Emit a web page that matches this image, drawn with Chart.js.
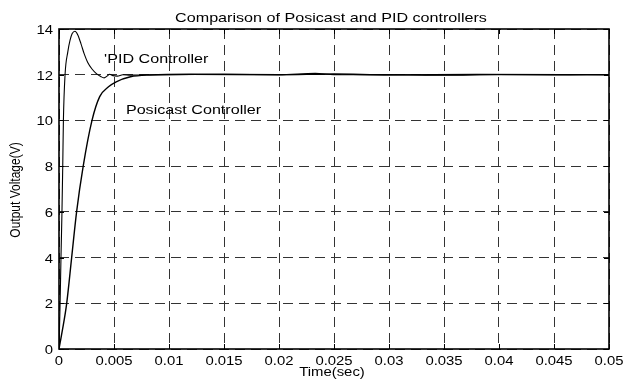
<!DOCTYPE html>
<html>
<head>
<meta charset="utf-8">
<script src="https://cdn.jsdelivr.net/npm/chart.js@4"></script>
<style>
  html, body { margin: 0; padding: 0; background: #fff; }
  #wrap { width: 627px; height: 382px; }
</style>
</head>
<body>
<div id="wrap"><canvas id="respChart" width="627" height="382"></canvas></div>
<script>
// step responses, time in seconds, output in volts
const pidTime = [0, 0.0001, 0.00018, 0.00027, 0.00034, 0.0004, 0.00055, 0.0008, 0.001, 0.0012, 0.00145, 0.0017, 0.002, 0.0023, 0.0026, 0.003, 0.0034, 0.0038, 0.0041, 0.0044, 0.0046, 0.0049, 0.0053, 0.0058, 0.0065, 0.008, 0.01, 0.015, 0.02, 0.0233, 0.025, 0.03, 0.035, 0.04, 0.045, 0.048, 0.05];
const pidVolt = [0, 2, 4, 6, 8, 10, 12, 13.0, 13.5, 13.8, 13.9, 13.75, 13.35, 12.9, 12.55, 12.25, 12.05, 11.92, 11.86, 11.95, 12.02, 11.96, 11.94, 12.0, 11.98, 12.0, 12.0, 12.02, 12.0, 12.06, 12.0, 12.01, 11.98, 12.01, 11.99, 12.0, 12.0];

const posTime = [0, 0.0003, 0.0007, 0.00115, 0.0016, 0.0022, 0.003, 0.0037, 0.0045, 0.0052, 0.0065, 0.0083, 0.012, 0.02, 0.025, 0.03, 0.038, 0.05];
const posVolt = [0, 0.8, 2, 4, 6, 8, 10, 11.04, 11.47, 11.69, 11.91, 11.99, 12.02, 12.0, 12.03, 11.99, 12.01, 12.0];

const xTicks = [0, 0.005, 0.01, 0.015, 0.02, 0.025, 0.03, 0.035, 0.04, 0.045, 0.05];
const yTicks = [0, 2, 4, 6, 8, 10, 12, 14];
const xTickLabels = ['0', '0.005', '0.01', '0.015', '0.02', '0.025', '0.03', '0.035', '0.04', '0.045', '0.05'];
const yTickLabels = ['0', '2', '4', '6', '8', '10', '12', '14'];

const titleText = 'Comparison of Posicast and PID controllers';
const xTitle = 'Time(sec)';
const yTitle = 'Output Voltage(V)';

// curve labels, placed in data coordinates (left end of baseline)
const curveLabels = [
  { text: "'PID Controller", x: 0.0041, y: 12.53 },
  { text: 'Posicast Controller', x: 0.00608, y: 10.26 }
];

const FONT = "'Liberation Sans', Arial, sans-serif";
const WIDEN = 1.24; // the figure's lettering is drawn a bit wide

const toPoints = (xs, ys) => xs.map((x, i) => ({ x: x, y: ys[i] }));

function wideText(ctx, text, x, y, align, size, rotate) {
  ctx.save();
  ctx.translate(x, y);
  if (rotate) ctx.rotate(-Math.PI / 2);
  ctx.font = size + 'px ' + FONT;
  ctx.textAlign = align;
  ctx.textBaseline = 'alphabetic';
  if (rotate) ctx.scale(1, WIDEN); else ctx.scale(WIDEN, 1);
  ctx.fillText(text, 0, 0);
  ctx.restore();
}

const framePlugin = {
  id: 'frame',
  afterDraw(chart) {
    const { ctx, chartArea: a, scales } = chart;
    ctx.save();
    // inner tick marks on all four sides
    ctx.strokeStyle = '#000';
    ctx.lineWidth = 1;
    ctx.beginPath();
    xTicks.forEach(v => {
      const px = Math.round(scales.x.getPixelForValue(v)) + 0.5;
      ctx.moveTo(px, a.bottom); ctx.lineTo(px, a.bottom - 5);
      ctx.moveTo(px, a.top); ctx.lineTo(px, a.top + 5);
    });
    yTicks.forEach(v => {
      const py = Math.round(scales.y.getPixelForValue(v)) + 0.5;
      ctx.moveTo(a.left, py); ctx.lineTo(a.left + 5, py);
      ctx.moveTo(a.right, py); ctx.lineTo(a.right - 5, py);
    });
    ctx.stroke();
    ctx.lineWidth = 1.6;
    ctx.strokeRect(a.left, a.top, a.right - a.left, a.bottom - a.top);

    ctx.fillStyle = '#000';
    xTicks.forEach((v, i) => {
      wideText(ctx, xTickLabels[i], scales.x.getPixelForValue(v), a.bottom + 16, 'center', 12);
    });
    yTicks.forEach((v, i) => {
      wideText(ctx, yTickLabels[i], a.left - 6, scales.y.getPixelForValue(v) + 5, 'right', 12);
    });
    wideText(ctx, titleText, (a.left + a.right) / 2 - 3, 22, 'center', 13);
    wideText(ctx, xTitle, (a.left + a.right) / 2 - 2, 376, 'center', 12);
    wideText(ctx, yTitle, 20, (a.top + a.bottom) / 2 + 1, 'center', 12, true);

    curveLabels.forEach(l => {
      wideText(ctx, l.text, scales.x.getPixelForValue(l.x), scales.y.getPixelForValue(l.y), 'left', 13);
    });
    ctx.restore();
  }
};

new Chart(document.getElementById('respChart'), {
  type: 'line',
  data: {
    datasets: [
      {
        label: 'PID Controller',
        data: toPoints(pidTime, pidVolt),
        borderColor: '#000',
        borderWidth: 1.1,
        pointRadius: 0,
        cubicInterpolationMode: 'monotone'
      },
      {
        label: 'Posicast Controller',
        data: toPoints(posTime, posVolt),
        borderColor: '#000',
        borderWidth: 1.4,
        pointRadius: 0,
        cubicInterpolationMode: 'monotone'
      }
    ]
  },
  options: {
    responsive: false,
    animation: false,
    layout: { padding: { left: 0, right: 18, top: 29, bottom: 0 } },
    plugins: {
      legend: { display: false },
      tooltip: { enabled: false },
      title: { display: false }
    },
    scales: {
      x: {
        type: 'linear',
        min: 0,
        max: 0.05,
        afterBuildTicks: s => { s.ticks = xTicks.map(v => ({ value: v })); },
        afterFit: s => { s.height = 33; },
        ticks: { display: false },
        grid: { color: '#333', lineWidth: 1, drawTicks: false },
        border: { display: false, dash: [10, 6] }
      },
      y: {
        min: 0,
        max: 14,
        afterBuildTicks: s => { s.ticks = yTicks.map(v => ({ value: v })); },
        afterFit: s => { s.width = 59; },
        ticks: { display: false },
        grid: { color: '#333', lineWidth: 1, drawTicks: false },
        border: { display: false, dash: [10, 6] }
      }
    }
  },
  plugins: [framePlugin]
});
</script>
</body>
</html>
